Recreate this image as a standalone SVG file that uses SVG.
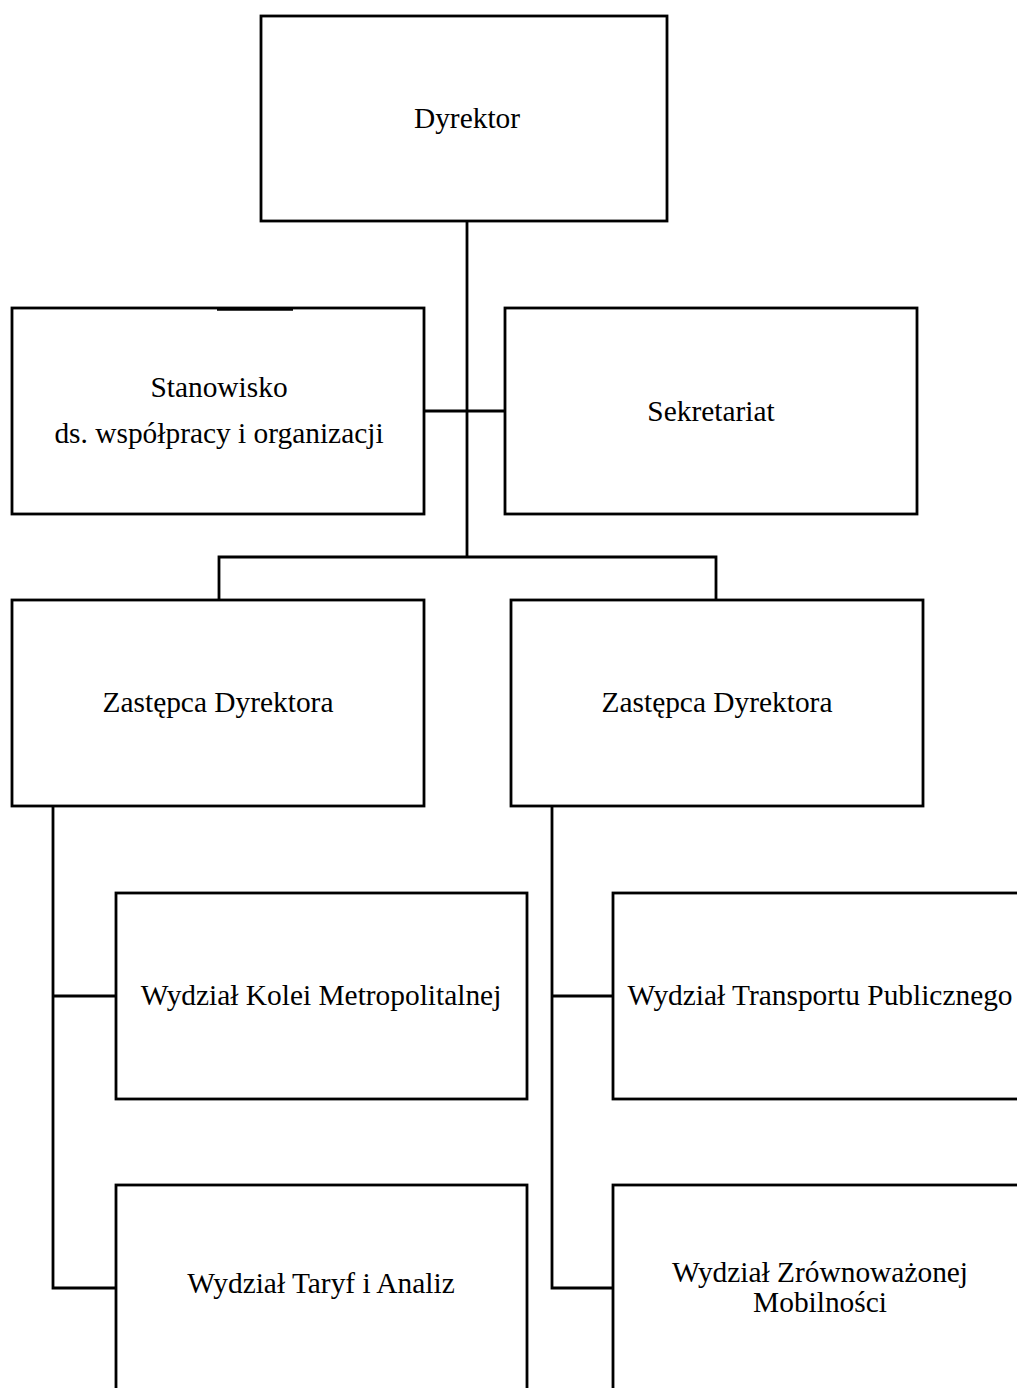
<svg xmlns="http://www.w3.org/2000/svg" width="1017" height="1388" viewBox="0 0 1017 1388">
<style>
.box{fill:#fff;stroke:#000;stroke-width:2.8}
.ln{stroke:#000;stroke-width:2.8;fill:none}
text{font-family:"Liberation Serif","Times New Roman",serif;font-size:29.4px;fill:#000;text-anchor:middle}
</style>
<rect width="1017" height="1388" fill="#fff"/>
<g id="connectors">
<line class="ln" x1="467" y1="221" x2="467" y2="557"/>
<line class="ln" x1="424" y1="411" x2="505" y2="411"/>
<polyline class="ln" points="219,600 219,557 716,557 716,600"/>
<polyline class="ln" points="53,806 53,1288 116,1288"/>
<line class="ln" x1="53" y1="996" x2="116" y2="996"/>
<polyline class="ln" points="552,806 552,1288 613,1288"/>
<line class="ln" x1="552" y1="996" x2="613" y2="996"/>
</g>
<g id="dyrektor"><rect class="box" x="261" y="16" width="406" height="205"/><text x="467" y="128">Dyrektor</text></g>
<g id="stanowisko"><rect class="box" x="12" y="308" width="412" height="206"/><line x1="217" y1="309" x2="293" y2="309" stroke="#000" stroke-width="3.4"/><text x="219" y="397">Stanowisko</text><text x="219" y="443">ds. współpracy i organizacji</text></g>
<g id="sekretariat"><rect class="box" x="505" y="308" width="412" height="206"/><text x="711" y="421">Sekretariat</text></g>
<g id="zastepca1"><rect class="box" x="12" y="600" width="412" height="206"/><text x="218" y="712">Zastępca Dyrektora</text></g>
<g id="zastepca2"><rect class="box" x="511" y="600" width="412" height="206"/><text x="717" y="712">Zastępca Dyrektora</text></g>
<g id="kolei"><rect class="box" x="116" y="893" width="411" height="206"/><text x="321" y="1005">Wydział Kolei Metropolitalnej</text></g>
<g id="transport"><rect class="box" x="613" y="893" width="411" height="206"/><text x="820" y="1005">Wydział Transportu Publicznego</text></g>
<g id="taryf"><rect class="box" x="116" y="1185" width="411" height="210"/><text x="321" y="1293">Wydział Taryf i Analiz</text></g>
<g id="mobilnosc"><rect class="box" x="613" y="1185" width="411" height="210"/><text x="820" y="1282">Wydział Zrównoważonej</text><text x="820" y="1312">Mobilności</text></g>
</svg>
